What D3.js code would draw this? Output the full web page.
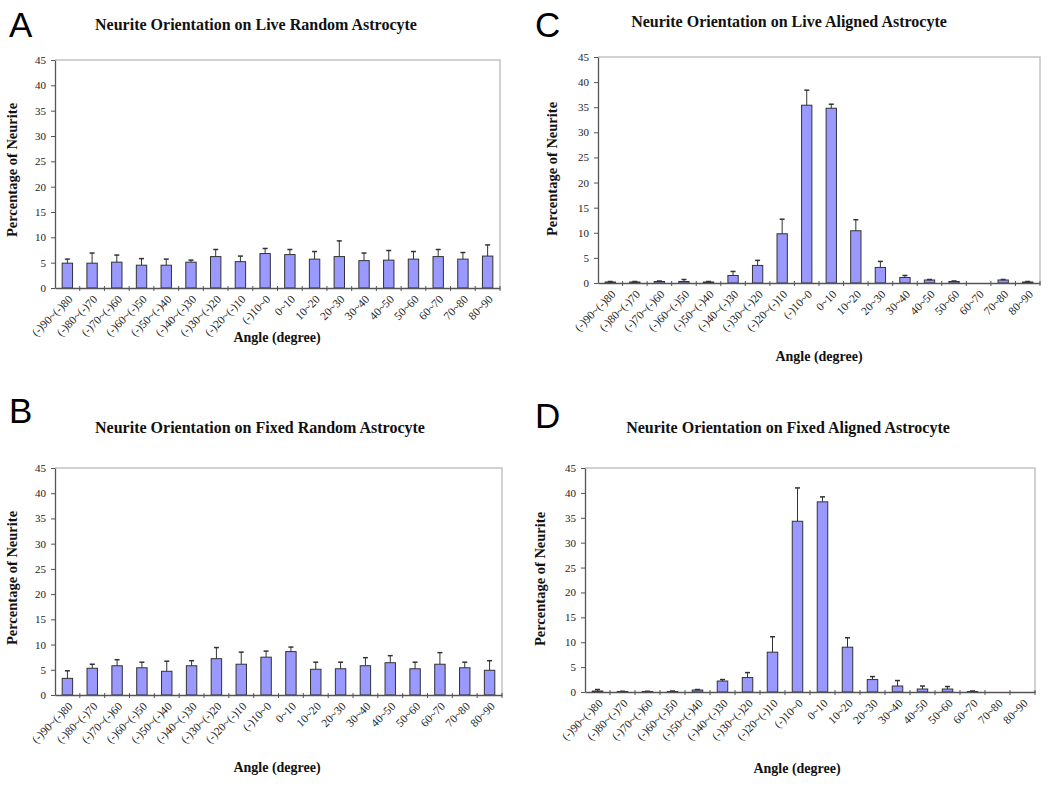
<!DOCTYPE html>
<html>
<head>
<meta charset="utf-8">
<script src="https://cdn.jsdelivr.net/npm/d3@7"></script>
<style>
  body { margin: 0; background: #fff; }
  svg { display: block; }
</style>
</head>
<body>
<svg id="chart" width="1050" height="787"></svg>
<script>
const categories = ["(-)90~(-)80","(-)80~(-)70","(-)70~(-)60","(-)60~(-)50","(-)50~(-)40","(-)40~(-)30","(-)30~(-)20","(-)20~(-)10","(-)10~0","0~10","10~20","20~30","30~40","40~50","50~60","60~70","70~80","80~90"];
const yTicks = [0,5,10,15,20,25,30,35,40,45];

const liveRandomValues = [4.9,4.9,5.1,4.5,4.5,5.1,6.2,5.2,6.8,6.6,5.7,6.2,5.4,5.5,5.7,6.2,5.7,6.3];
const liveRandomErrors = [0.8,2.0,1.4,1.3,1.2,0.4,1.4,1.1,1.0,1.0,1.5,3.1,1.5,1.9,1.5,1.4,1.3,2.2];

const fixedRandomValues = [3.3,5.3,5.8,5.4,4.7,5.8,7.2,6.1,7.5,8.6,5.1,5.2,5.8,6.4,5.2,6.1,5.4,4.9];
const fixedRandomErrors = [1.5,0.8,1.2,1.1,2.0,1.0,2.2,2.4,1.2,0.9,1.4,1.3,1.6,1.4,1.3,2.3,1.1,1.9];

const liveAlignedValues = [0.2,0.2,0.3,0.3,0.2,1.5,3.5,9.8,35.4,34.8,10.4,3.1,1.1,0.6,0.3,0,0.6,0.2];
const liveAlignedErrors = [0.1,0.1,0.1,0.4,0.1,0.8,1.0,2.9,3.0,0.8,2.2,1.2,0.4,0.1,0.1,0,0.1,0.1];

const fixedAlignedValues = [0.2,0.1,0.1,0.1,0.4,2.2,2.9,8.0,34.3,38.2,9.0,2.5,1.2,0.6,0.6,0.1,0,0];
const fixedAlignedErrors = [0.3,0.05,0.05,0.1,0.1,0.3,1.0,3.1,6.7,1.0,1.9,0.6,1.1,0.6,0.5,0.1,0,0];

const titles = {
  A: "Neurite Orientation on Live Random Astrocyte",
  B: "Neurite Orientation on Fixed Random Astrocyte",
  C: "Neurite Orientation on Live Aligned Astrocyte",
  D: "Neurite Orientation on Fixed Aligned Astrocyte"
};
const yLabel = "Percentage of Neurite";
const xLabel = "Angle (degree)";

const panels = [
  { letter: "A", values: liveRandomValues, errors: liveRandomErrors,
    box: {l: 55, r: 500, t: 60, b: 288}, letterPos: [9, 37], titlePos: [256, 30],
    yLabPos: [17, 170], xLabPos: [277, 342] },
  { letter: "B", values: fixedRandomValues, errors: fixedRandomErrors,
    box: {l: 55, r: 502, t: 468, b: 695}, letterPos: [9, 423], titlePos: [260, 433],
    yLabPos: [17, 578], xLabPos: [277, 772] },
  { letter: "C", values: liveAlignedValues, errors: liveAlignedErrors,
    box: {l: 598, r: 1040, t: 57, b: 283}, letterPos: [535, 37], titlePos: [789, 27],
    yLabPos: [557, 169], xLabPos: [819, 361] },
  { letter: "D", values: fixedAlignedValues, errors: fixedAlignedErrors,
    box: {l: 585, r: 1035, t: 468, b: 692}, letterPos: [535, 428], titlePos: [788, 433],
    yLabPos: [545, 579], xLabPos: [797, 773] }
];

const svg = d3.select("#chart");
const serif = "'Liberation Serif', 'Times New Roman', serif";

panels.forEach(p => {
  const g = svg.append("g");
  const {l, r, t, b} = p.box;
  const x = d3.scaleBand().domain(categories).range([l, r]).paddingInner(0.58).paddingOuter(0.29);
  const y = d3.scaleLinear().domain([0, 45]).range([b, t]);

  // plot frame (top/right light gray)
  g.append("path")
    .attr("d", `M${l},${t}H${r}V${b}`)
    .attr("fill", "none").attr("stroke", "#c4c4c4").attr("stroke-width", 1.5);

  // bars
  g.selectAll("rect.bar").data(p.values).join("rect")
    .attr("class", "bar")
    .attr("x", (d, i) => x(categories[i]))
    .attr("width", x.bandwidth())
    .attr("y", d => y(d))
    .attr("height", d => y(0) - y(d))
    .attr("fill", "#9999ff")
    .attr("stroke", "#333")
    .attr("stroke-width", d => d > 0 ? 1 : 0);

  // error bars (upper only)
  const eb = g.selectAll("g.err").data(p.values.map((v, i) => ({v, e: p.errors[i], c: categories[i]})).filter(d => d.e > 0 && d.v > 0))
    .join("g").attr("class", "err");
  eb.append("line")
    .attr("x1", d => x(d.c) + x.bandwidth() / 2).attr("x2", d => x(d.c) + x.bandwidth() / 2)
    .attr("y1", d => y(d.v)).attr("y2", d => y(d.v + d.e))
    .attr("stroke", "#333").attr("stroke-width", 1);
  eb.append("line")
    .attr("x1", d => x(d.c) + x.bandwidth() / 2 - 2.5).attr("x2", d => x(d.c) + x.bandwidth() / 2 + 2.5)
    .attr("y1", d => y(d.v + d.e)).attr("y2", d => y(d.v + d.e))
    .attr("stroke", "#333").attr("stroke-width", 1.5);

  // y axis
  const yAxis = g.append("g").attr("transform", `translate(${l},0)`)
    .call(d3.axisLeft(y).tickValues(yTicks).tickSize(4).tickSizeOuter(0).tickPadding(5));
  yAxis.select(".domain").attr("stroke", "#555").attr("stroke-width", 1.3);
  yAxis.selectAll(".tick line").attr("stroke", "#555");
  yAxis.selectAll(".tick text").attr("font-family", serif).attr("font-size", 11).attr("fill", "#222");

  // x axis
  const xAxis = g.append("g").attr("transform", `translate(0,${b})`)
    .call(d3.axisBottom(x).tickSize(0).tickSizeOuter(0).tickPadding(0));
  xAxis.select(".domain").attr("stroke", "#555").attr("stroke-width", 1.3);
  xAxis.selectAll(".tick text")
    .attr("font-family", serif).attr("font-size", 11.5).attr("fill", "#222")
    .attr("text-anchor", "end")
    .attr("dy", 0)
    .attr("transform", "translate(6,12) rotate(-45)");
  // boundary tick marks
  const step = x.step();
  const bounds = d3.range(1, categories.length + 1).map(i => l + i * step);
  g.selectAll("line.xt").data(bounds).join("line").attr("class", "xt")
    .attr("x1", d => d).attr("x2", d => d)
    .attr("y1", b - 2).attr("y2", b + 3)
    .attr("stroke", "#555").attr("stroke-width", 1);

  // title
  g.append("text").attr("x", p.titlePos[0]).attr("y", p.titlePos[1])
    .attr("text-anchor", "middle").attr("font-family", serif).attr("font-weight", "bold")
    .attr("font-size", 16).attr("fill", "#111").text(titles[p.letter]);

  // y label
  g.append("text").attr("transform", `translate(${p.yLabPos[0]},${p.yLabPos[1]}) rotate(-90)`)
    .attr("text-anchor", "middle").attr("font-family", serif).attr("font-weight", "bold")
    .attr("font-size", 14.5).attr("fill", "#111").text(yLabel);

  // x label
  g.append("text").attr("x", p.xLabPos[0]).attr("y", p.xLabPos[1])
    .attr("text-anchor", "middle").attr("font-family", serif).attr("font-weight", "bold")
    .attr("font-size", 14).attr("fill", "#111").text(xLabel);

  // panel letter
  g.append("text").attr("x", p.letterPos[0]).attr("y", p.letterPos[1])
    .attr("font-family", "'Liberation Sans', Arial, sans-serif")
    .attr("font-size", 35).attr("fill", "#000").text(p.letter);
});
</script>
</body>
</html>
